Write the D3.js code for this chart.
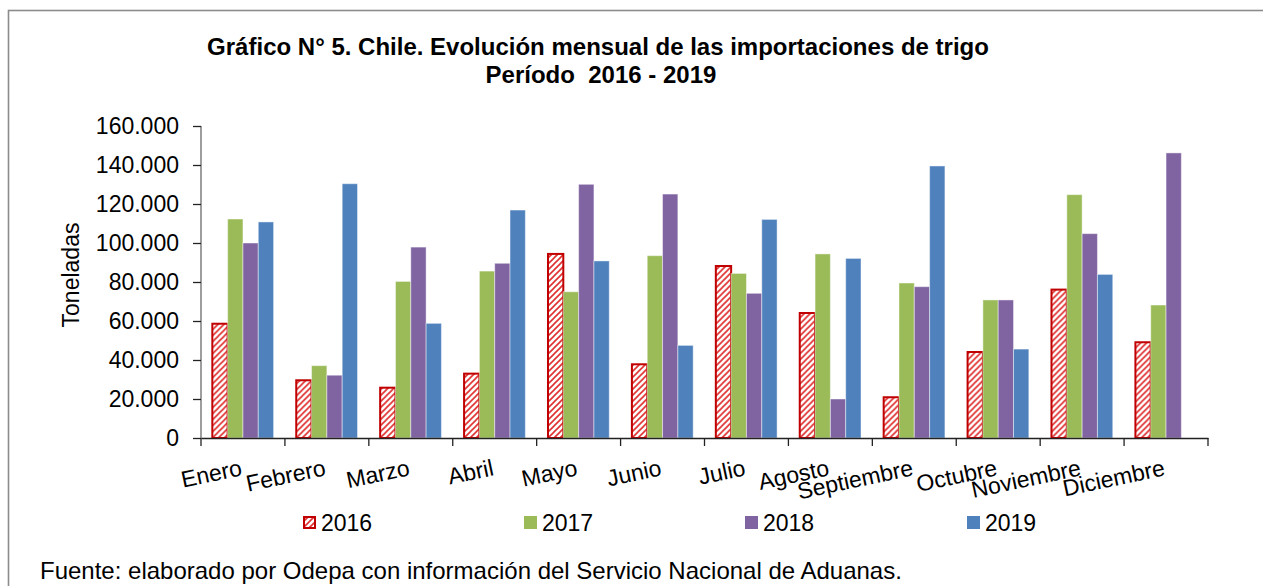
<!DOCTYPE html>
<html>
<head>
<meta charset="utf-8">
<script src="https://cdn.jsdelivr.net/npm/d3@7"></script>
<style>
  html, body { margin: 0; padding: 0; background: #fff; }
  svg { display: block; font-family: "Liberation Sans", Arial, sans-serif; }
</style>
</head>
<body>
<svg id="chart" width="1263" height="586"></svg>
<script>
const months = ["Enero","Febrero","Marzo","Abril","Mayo","Junio","Julio","Agosto","Septiembre","Octubre","Noviembre","Diciembre"];
const seriesNames = ["2016","2017","2018","2019"];
const values2016 = [58600, 29600, 25800, 33000, 94400, 37800, 88200, 64100, 20900, 44100, 76100, 49100];
const values2017 = [112300, 37100, 80300, 85600, 75000, 93500, 84400, 94400, 79500, 70800, 124800, 68200];
const values2018 = [100000, 32200, 97900, 89600, 130100, 125100, 74200, 20000, 77600, 70800, 104800, 146200];
const values2019 = [110800, 130400, 58800, 116900, 90800, 47500, 112100, 92100, 139500, 45600, 83900, null];
const yTicks = [0, 20000, 40000, 60000, 80000, 100000, 120000, 140000, 160000];
const seriesColors = ["url(#hatch2016)", "#9BBB59", "#8064A2", "#4F81BD"];
const titleLines = ["Gráfico N° 5. Chile. Evolución mensual de las importaciones de trigo", "Período  2016 - 2019"];
const yTitle = "Toneladas";
const sourceNote = "Fuente: elaborado por Odepa con información del Servicio Nacional de Aduanas.";

const seriesValues = [values2016, values2017, values2018, values2019];

const svg = d3.select("#chart");
const locale = d3.formatLocale({decimal: ",", thousands: ".", grouping: [3], currency: ["$", ""]});
const fmt = locale.format(",.0f");

// pattern for 2016
const defs = svg.append("defs");
const pat = defs.append("pattern")
  .attr("id", "hatch2016")
  .attr("patternUnits", "userSpaceOnUse")
  .attr("width", 6).attr("height", 6);
pat.append("rect").attr("width", 6).attr("height", 6).attr("fill", "#fff");
pat.append("path")
  .attr("d", "M0,6 L6,0 M-1.5,1.5 L1.5,-1.5 M4.5,7.5 L7.5,4.5")
  .attr("stroke", "#E03030").attr("stroke-width", 1.6);

// frame
svg.append("rect")
  .attr("x", 8.5).attr("y", 10.5).attr("width", 1300).attr("height", 620)
  .attr("fill", "none").attr("stroke", "#8c8c8c").attr("stroke-width", 1.6);

// title
svg.append("text").attr("x", 598).attr("y", 55)
  .attr("text-anchor", "middle").attr("font-weight", "bold").attr("font-size", 24)
  .text(titleLines[0]);
svg.append("text").attr("x", 601).attr("y", 83)
  .attr("text-anchor", "middle").attr("font-weight", "bold").attr("font-size", 24)
  .attr("xml:space", "preserve").style("white-space", "pre")
  .text(titleLines[1]);

const plotLeft = 201, plotRight = 1208, plotTop = 126, plotBottom = 438;

const x0 = d3.scaleBand().domain(months).range([plotLeft, plotRight])
  .paddingInner(0.27).paddingOuter(0.135);
const x1 = d3.scaleBand().domain(seriesNames).range([0, x0.bandwidth()]).padding(0);
const y = d3.scaleLinear().domain([0, 160000]).range([plotBottom, plotTop]);

// y axis
const yAxis = svg.append("g").attr("transform", `translate(${plotLeft},0)`)
  .call(d3.axisLeft(y).tickValues(yTicks).tickFormat(fmt).tickSize(8).tickPadding(14));
yAxis.select(".domain").attr("stroke", "#868686").attr("stroke-width", 1.6).attr("d", `M0,${plotTop}V${plotBottom}`);
yAxis.selectAll(".tick line").attr("stroke", "#222").attr("stroke-width", 1.3);
yAxis.selectAll(".tick text").attr("font-size", 23).attr("fill", "#000")
  .attr("font-family", "'Liberation Sans', Arial, sans-serif");

// bars
const groups = svg.append("g").selectAll("g")
  .data(months).join("g")
  .attr("transform", d => `translate(${x0(d)},0)`);

seriesNames.forEach((s, si) => {
  groups.filter((m, mi) => seriesValues[si][mi] != null)
    .append("rect")
    .attr("x", x1(s))
    .attr("width", x1.bandwidth())
    .attr("y", m => y(seriesValues[si][months.indexOf(m)]))
    .attr("height", m => y(0) - y(seriesValues[si][months.indexOf(m)]))
    .attr("fill", seriesColors[si])
    .attr("stroke", si === 0 ? "#C00000" : "rgba(255,255,255,0.45)")
    .attr("stroke-width", si === 0 ? 2 : 1);
});

// x axis
const xAxis = svg.append("g").attr("transform", `translate(0,${plotBottom})`)
  .call(d3.axisBottom(x0).tickSize(0).tickFormat(""));
xAxis.select(".domain").attr("stroke", "#222").attr("stroke-width", 1.3);
xAxis.selectAll(".tick").remove();
const tickPos = d3.range(months.length + 1).map(i => plotLeft + i * x0.step());
xAxis.selectAll("line.sep").data(tickPos).join("line")
  .attr("class", "sep")
  .attr("x1", d => d).attr("x2", d => d).attr("y1", 0).attr("y2", 8)
  .attr("stroke", "#222").attr("stroke-width", 1.3);

// x labels
svg.append("g").selectAll("text").data(months).join("text")
  .attr("transform", d => `translate(${x0(d) + x0.bandwidth() / 2},475) rotate(-12)`)
  .attr("text-anchor", "end")
  .attr("font-size", 23)
  .text(d => d);

// y title
svg.append("text")
  .attr("transform", "translate(79,275) rotate(-90)")
  .attr("text-anchor", "middle").attr("font-size", 23)
  .text(yTitle);

// legend
const legendX = [303, 524, 745, 967];
const leg = svg.append("g").selectAll("g").data(seriesNames).join("g")
  .attr("transform", (d, i) => `translate(${legendX[i]},516)`);
leg.append("rect")
  .attr("x", (d, i) => i === 0 ? 1 : 0).attr("y", (d, i) => i === 0 ? 1 : 0)
  .attr("width", (d, i) => i === 0 ? 11 : 13).attr("height", (d, i) => i === 0 ? 11 : 13)
  .attr("fill", (d, i) => seriesColors[i])
  .attr("stroke", (d, i) => i === 0 ? "#C00000" : "none")
  .attr("stroke-width", 2);
leg.append("text").attr("x", 18).attr("y", 15).attr("font-size", 23).text(d => d);

// source
svg.append("text").attr("x", 40).attr("y", 579).attr("font-size", 24).text(sourceNote);
</script>
</body>
</html>
